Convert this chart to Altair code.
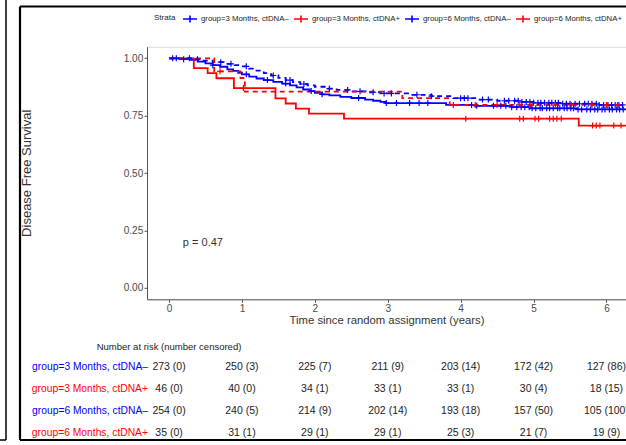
import altair as alt
import pandas as pd

# ---------------- data ----------------
groups = ["group=3 Months, ctDNA–", "group=3 Months, ctDNA+",
          "group=6 Months, ctDNA–", "group=6 Months, ctDNA+"]
group_arm = ["3 Months", "3 Months", "6 Months", "6 Months"]
group_colors = ["#0000ff", "#ff0000", "#0000ff", "#ff0000"]
arm_names = ["3 Months", "6 Months"]
arm_dashes = [[1, 0], [5, 4]]

# Kaplan-Meier step points (time in years, survival)
t_3neg = [0, 0.15, 0.3, 0.4, 0.5, 0.6, 0.7, 0.8, 0.88, 0.95, 1.0, 1.1, 1.2, 1.3, 1.43,
          1.55, 1.66, 1.75, 1.84, 1.93, 2.0, 2.1, 2.2, 2.35, 2.5, 2.69, 2.8, 2.9, 2.97,
          3.8, 4.2, 4.7, 4.95, 5.6, 6.6]
s_3neg = [1.0, 0.996, 0.993, 0.985, 0.978, 0.97, 0.963, 0.952, 0.945, 0.937, 0.93, 0.92,
          0.912, 0.905, 0.897, 0.89, 0.882, 0.873, 0.864, 0.857, 0.849, 0.843, 0.838,
          0.832, 0.827, 0.82, 0.815, 0.81, 0.805, 0.797, 0.793, 0.787, 0.782, 0.777, 0.777]

t_3pos = [0, 0.34, 0.53, 0.65, 0.89, 1.46, 1.60, 1.74, 1.92, 2.40, 5.62, 6.6]
s_3pos = [1.0, 0.957, 0.935, 0.913, 0.870, 0.825, 0.803, 0.781, 0.759, 0.737, 0.707, 0.707]

t_6neg = [0, 0.3, 0.45, 0.6, 0.75, 0.9, 1.0, 1.1, 1.2, 1.3, 1.4, 1.5, 1.6, 1.7, 1.8, 1.9,
          2.0, 2.15, 2.3, 2.5, 2.7, 2.9, 3.3, 3.6, 3.9, 4.2, 4.5, 4.8, 5.0, 5.4, 5.9, 6.6]
s_6neg = [1.0, 0.996, 0.99, 0.983, 0.976, 0.97, 0.965, 0.955, 0.946, 0.935, 0.925, 0.915,
          0.905, 0.896, 0.888, 0.882, 0.876, 0.868, 0.862, 0.856, 0.852, 0.847, 0.841,
          0.835, 0.826, 0.82, 0.815, 0.81, 0.806, 0.802, 0.797, 0.797]

t_6pos = [0, 0.62, 0.98, 1.04, 3.2, 3.85, 6.6]
s_6pos = [1.0, 0.943, 0.914, 0.855, 0.826, 0.797, 0.797]

# censoring times (marks "+")
c_3neg = [0.05, 0.2, 0.6, 1.06, 1.35, 1.6, 1.95, 2.1, 2.6, 2.98, 3.12, 3.3, 3.43, 3.55,
          4.15, 4.22, 4.45, 4.55, 4.62, 4.7, 4.77, 4.83, 4.88, 4.94, 4.98, 5.03, 5.09,
          5.12, 5.18, 5.22, 5.27, 5.33, 5.36, 5.42, 5.46, 5.51, 5.55, 5.61, 5.66, 5.73,
          5.78, 5.84, 5.88, 5.94, 5.98, 6.04, 6.08, 6.14, 6.18, 6.23]
c_3pos = [1.02, 4.07, 4.81, 4.86, 5.02, 5.07, 5.22, 5.27, 5.32, 5.38, 5.81, 5.86, 5.91,
          6.1, 6.2]
c_6neg = [0.1, 0.28, 0.39, 0.71, 0.85, 1.06, 1.43, 1.66, 1.85, 2.2, 2.45, 2.62, 2.8, 2.95,
          3.05, 3.4, 3.6, 4.0, 4.05, 4.1, 4.3, 4.38, 4.6, 4.66, 4.74, 4.79, 4.84, 4.9,
          4.95, 5.0, 5.06, 5.1, 5.15, 5.21, 5.25, 5.3, 5.34, 5.4, 5.45, 5.5, 5.57, 5.63,
          5.7, 5.75, 5.8, 5.86, 5.9, 5.96, 6.02, 6.07, 6.12, 6.17, 6.22]
c_6pos = [0.70, 3.9, 4.2, 4.5, 4.81, 4.95, 5.3, 5.52, 5.8, 6.0, 6.15]

# number at risk table
risk_times = [0, 1, 2, 3, 4, 5, 6]
r_3neg = ["273 (0)", "250 (3)", "225 (7)", "211 (9)", "203 (14)", "172 (42)", "127 (86)"]
r_3pos = ["46 (0)", "40 (0)", "34 (1)", "33 (1)", "33 (1)", "30 (4)", "18 (15)"]
r_6neg = ["254 (0)", "240 (5)", "214 (9)", "202 (14)", "193 (18)", "157 (50)", "105 (100)"]
r_6pos = ["35 (0)", "31 (1)", "29 (1)", "29 (1)", "25 (3)", "21 (7)", "19 (9)"]

p_text = "p = 0.47"
p_pos = (0.19, 0.196)

# ---------------- tables ----------------
steps = [(t_3neg, s_3neg), (t_3pos, s_3pos), (t_6neg, s_6neg), (t_6pos, s_6pos)]
cens = [c_3neg, c_3pos, c_6neg, c_6pos]
risks = [r_3neg, r_3pos, r_6neg, r_6pos]


def surv_at(ts, ss, t):
    v = ss[0]
    for a, b in zip(ts, ss):
        if a <= t:
            v = b
    return v


curve_rows, cens_rows, risk_rows = [], [], []
for g, arm, (ts, ss), cs, rs in zip(groups, group_arm, steps, cens, risks):
    for a, b in zip(ts, ss):
        curve_rows.append({"group": g, "arm": arm, "t": a, "s": b})
    for c in cs:
        cens_rows.append({"group": g, "t": c, "s": surv_at(ts, ss, c)})
    for a, r in zip(risk_times, rs):
        risk_rows.append({"group": g, "t": a, "label": r})

curves = pd.DataFrame(curve_rows)
censors = pd.DataFrame(cens_rows)
risk = pd.DataFrame(risk_rows)

FONT = "Liberation Sans"
W, H = 479, 252.5
x_scale = alt.Scale(domain=[-0.302, 6.268], nice=False, zero=False)
x_axis = alt.Axis(values=list(range(7)), title="Time since random assignment (years)",
                  labelFontSize=10, labelColor="#4a4a4a", tickColor="#555", domainColor="#555",
                  tickSize=3, labelPadding=1, titleFontSize=11.3, titleFont=FONT,
                  titleFontWeight="normal", titleColor="#333", titlePadding=1, grid=False)


def xenc():
    return alt.X("t:Q", scale=x_scale, axis=x_axis)


y_enc = alt.Y("s:Q", scale=alt.Scale(domain=[-0.05, 1.05], nice=False),
              axis=alt.Axis(values=[0, 0.25, 0.5, 0.75, 1.0], format=".2f",
                            title="Disease Free Survival", labelFontSize=10,
                            labelColor="#4a4a4a", tickColor="#555", domainColor="#555",
                            tickSize=3, labelPadding=1.3, titleFontSize=13,
                            titleFontWeight="normal", titleColor="#333",
                            titleX=-120.5, titleY=126, titleBaseline="middle", grid=False))

color_enc = alt.Color("group:N", scale=alt.Scale(domain=groups, range=group_colors),
                      legend=alt.Legend(title="Strata", orient="none", legendX=7, legendY=-36,
                                        direction="horizontal", titleOrient="left",
                                        titleFontSize=8, titleFontWeight="normal",
                                        titleColor="#222", titlePadding=6,
                                        labelFontSize=7.8, labelColor="#222", labelOffset=3,
                                        symbolType="M-1,0L1,0M0,-0.5L0,0.5",
                                        symbolSize=196, symbolStrokeWidth=1.6,
                                        columnPadding=1, labelLimit=200))

lines = alt.Chart(curves).mark_line(interpolate="step-after", strokeWidth=1.8, clip=True).encode(
    x=xenc(), y=y_enc, color=color_enc,
    strokeDash=alt.StrokeDash("arm:N", scale=alt.Scale(domain=arm_names, range=arm_dashes),
                              legend=None),
    detail="group:N",
)

marks = alt.Chart(censors).mark_point(shape="M-1,0L1,0M0,-1L0,1", size=36, filled=False,
                                      strokeWidth=1.2, opacity=1, clip=True).encode(
    x=xenc(), y=alt.Y("s:Q"), color=alt.Color("group:N"),
)

ptext = alt.Chart(pd.DataFrame({"t": [p_pos[0]], "s": [p_pos[1]], "txt": [p_text]})).mark_text(
    align="left", baseline="middle", fontSize=11, font=FONT, color="#333").encode(
    x=xenc(), y=alt.Y("s:Q"), text="txt:N")

km = alt.layer(lines, marks, ptext)

risk_text = alt.Chart(risk).mark_text(fontSize=10.5, font=FONT, color="#222",
                                       baseline="middle").encode(
    x=xenc(),
    y=alt.Y("group:N", scale=alt.Scale(type="point", domain=groups, range=[320, 386], padding=0),
            axis=alt.Axis(orient="left", title=None, domain=False, ticks=False,
                          labelPadding=-0.5, labelFontSize=10.3, labelFont=FONT, grid=False,
                          labelLimit=300,
                          labelColor={"condition": {"test": "indexof(datum.value, '+') >= 0",
                                                    "value": "#ff0000"},
                                      "value": "#0000ff"})),
    text="label:N",
)

risk_title = alt.Chart(pd.DataFrame({"t": [0], "txt": ["Number at risk (number censored)"]})).mark_text(
    fontSize=9.5, font=FONT, color="#222", align="center", baseline="middle").encode(
    x=xenc(), y=alt.value(300), text="txt:N")

risk_layer = alt.layer(risk_text, risk_title)

# figure frame lines (cropped panel borders)
frame = pd.DataFrame({"x": [-127, -127, -127, -141, -150],
                      "x2": [-127, 500, 500, -141, -141],
                      "y": [-40.3, -40.3, 393.2, -60, 393.2],
                      "y2": [393.2, -40.3, 393.2, 393.2, 393.2],
                      "w": [2.2, 2.2, 2.2, 1.5, 1.5]})
frames = []
for _, r in frame.iterrows():
    frames.append(alt.Chart(pd.DataFrame({"a": [0]})).mark_rule(color="#000", strokeWidth=float(r.w)).encode(
        x=alt.value(float(r.x)), x2=alt.value(float(r.x2)),
        y=alt.value(float(r.y)), y2=alt.value(float(r.y2))))

chart = alt.layer(km, risk_layer, *frames).resolve_scale(y="independent").properties(
    width=W, height=H,
    padding={"left": 147, "top": 46.8, "right": 0, "bottom": 145.7},
    autosize=alt.AutoSizeParams(type="none"),
).configure_view(stroke=None).configure_axis(labelFont=FONT, titleFont=FONT).configure_legend(
    labelFont=FONT, titleFont=FONT).configure(background="white")

chart.save("out.html", embed_options={"renderer": "svg", "actions": False})
